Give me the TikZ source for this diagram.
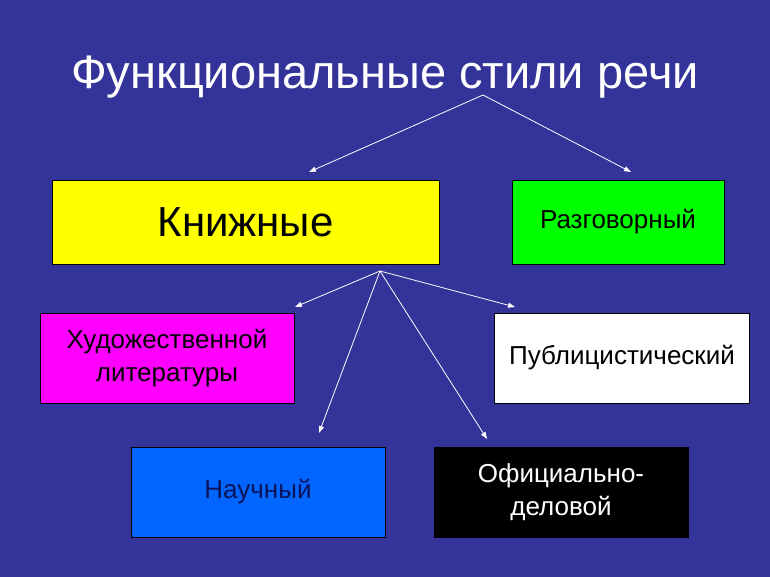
\documentclass[tikz,border=0pt]{standalone}
\usepackage{fontspec}
\setmainfont{Liberation Sans}
\usepackage{tikz}
\usetikzlibrary{arrows.meta, positioning, shapes}

\definecolor{slideblue}{RGB}{51,51,153}
\definecolor{bookyellow}{RGB}{255,255,0}
\definecolor{talkgreen}{RGB}{0,255,0}
\definecolor{artpink}{RGB}{255,0,255}
\definecolor{sciblue}{RGB}{0,102,255}
\definecolor{scitext}{RGB}{10,20,90}

\tikzset{
  box/.style={draw=black, line width=0.8pt, minimum height=84pt, inner sep=0pt, align=center, font=\fontsize{26}{33}\selectfont},
  link/.style={draw=white, line width=0.8pt, -{Triangle[length=7pt, width=5pt]}}
}

\begin{document}
\begin{tikzpicture}[x=1pt, y=-1pt]
\fill[slideblue] (0,0) rectangle (770,577);
\useasboundingbox (0,0) rectangle (770,577);
% nodes

\node (T) [anchor=base, white, font=\fontsize{47}{50}\selectfont] at (385, 89) {Функциональные стили речи};

\node (K) [box, fill=bookyellow, minimum width=387pt, font=\fontsize{42}{46}\selectfont] at (245.5, 222) {Книжные};
\node (R) [box, fill=talkgreen, minimum width=212pt] at (618, 222) {Разговорный};
\node (H) [box, fill=artpink, minimum width=254pt, minimum height=90pt] at (167, 358) {Художественной\\литературы};
\node (P) [box, fill=white, minimum width=255pt, minimum height=90pt] at (622, 358) {Публицистический};
\node (N) [box, fill=sciblue, text=scitext, minimum width=254pt, minimum height=90pt] at (258, 492) {Научный};
\node (O) [box, fill=black, text=white, minimum width=254pt, minimum height=90pt] at (561, 492) {Официально-\\деловой};

\coordinate (t0) at (483, 95);
\coordinate (k0) at (380, 271);
\coordinate (tK) at (309, 172);
\coordinate (tR) at (631, 172);
\coordinate (tH) at (295, 307);
\coordinate (tP) at (515, 307);
\coordinate (tN) at (319, 433);
\coordinate (tO) at (487, 439);

% arrows
\draw [link] (t0) -- (tK);
\draw [link] (t0) -- (tR);
\draw [link] (k0) -- (tH);
\draw [link] (k0) -- (tP);
\draw [link] (k0) -- (tN);
\draw [link] (k0) -- (tO);
\end{tikzpicture}
\end{document}
